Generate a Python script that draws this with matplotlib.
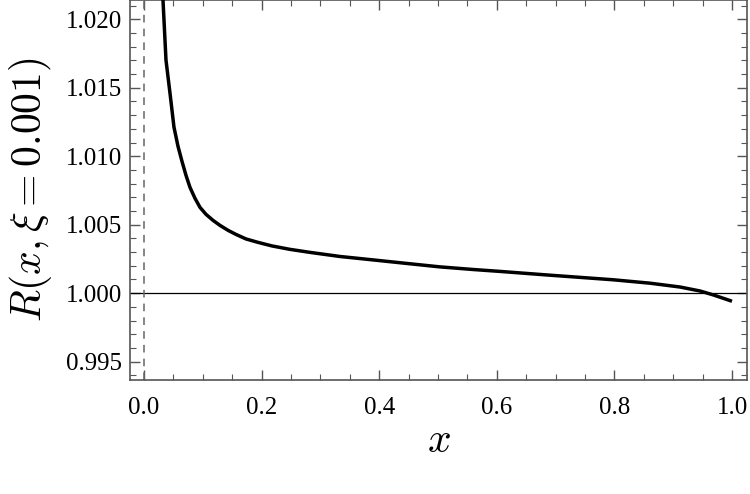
import matplotlib
matplotlib.use("Agg")
import matplotlib.pyplot as plt
from matplotlib.ticker import MultipleLocator, FormatStrFormatter

# Data
x_vals = [0.0310, 0.0323, 0.0374, 0.0442, 0.0510, 0.0578, 0.0646, 0.0714, 0.0782, 0.0867,
          0.0952, 0.1054, 0.1173, 0.1293, 0.1429, 0.1565, 0.1735, 0.1939, 0.2177, 0.2483,
          0.2823, 0.3333, 0.3895, 0.4473, 0.5034, 0.5595, 0.6054, 0.6854, 0.7976, 0.8605,
          0.9116, 0.9456, 0.9677, 1.0000]
r_vals = [1.02260, 1.02141, 1.01702, 1.01461, 1.01212, 1.01073, 1.00963, 1.00861, 1.00773, 1.00693,
          1.00627, 1.00576, 1.00532, 1.00495, 1.00459, 1.00429, 1.00396, 1.00371, 1.00345, 1.00320,
          1.00298, 1.00268, 1.00243, 1.00217, 1.00192, 1.00173, 1.00159, 1.00133, 1.00098, 1.00073,
          1.00045, 1.00016, 0.99988, 0.99941]

x_range = (-0.0238, 1.0255)
y_range = (0.99366, 1.02141)
x_ticks_major = 0.2
y_ticks_major = 0.005

plt.rcParams['mathtext.fontset'] = 'cm'
plt.rcParams['font.family'] = ['Liberation Serif', 'DejaVu Serif']

fig = plt.figure(figsize=(7.5, 4.94), dpi=100)
ax = fig.add_axes([130/750, 1 - 380/494, (747-130)/750, 380/494])

ax.axhline(1.0, color='black', lw=0.9, zorder=2)
ax.axvline(0.0, color='#666666', lw=1.1, dashes=(5, 4), zorder=2)
ax.plot(x_vals, r_vals, color='black', lw=2.5, zorder=3,
        solid_capstyle='butt', solid_joinstyle='round')

ax.set_xlim(*x_range)
ax.set_ylim(*y_range)
ax.xaxis.set_major_locator(MultipleLocator(x_ticks_major))
ax.xaxis.set_minor_locator(MultipleLocator(0.05))
ax.yaxis.set_major_locator(MultipleLocator(y_ticks_major))
ax.yaxis.set_minor_locator(MultipleLocator(0.001))
ax.xaxis.set_major_formatter(FormatStrFormatter('%.1f'))
ax.yaxis.set_major_formatter(FormatStrFormatter('%.3f'))

ax.tick_params(which='both', direction='in', top=True, right=True, color='#555555')
ax.tick_params(which='major', length=7, width=1.0, labelsize=18)
ax.tick_params(axis='x', which='major', pad=12)
ax.tick_params(axis='y', which='major', pad=6)
ax.tick_params(which='minor', length=4, width=0.8)
for s in ax.spines.values():
    s.set_color('#555555')
    s.set_linewidth(1.2)

ax.set_xlabel(r'$x$', fontsize=30, labelpad=3)
ax.set_ylabel(r'$R(x,\xi=0.001)$', fontsize=30, labelpad=8)

fig.savefig('out.png', dpi=100)
